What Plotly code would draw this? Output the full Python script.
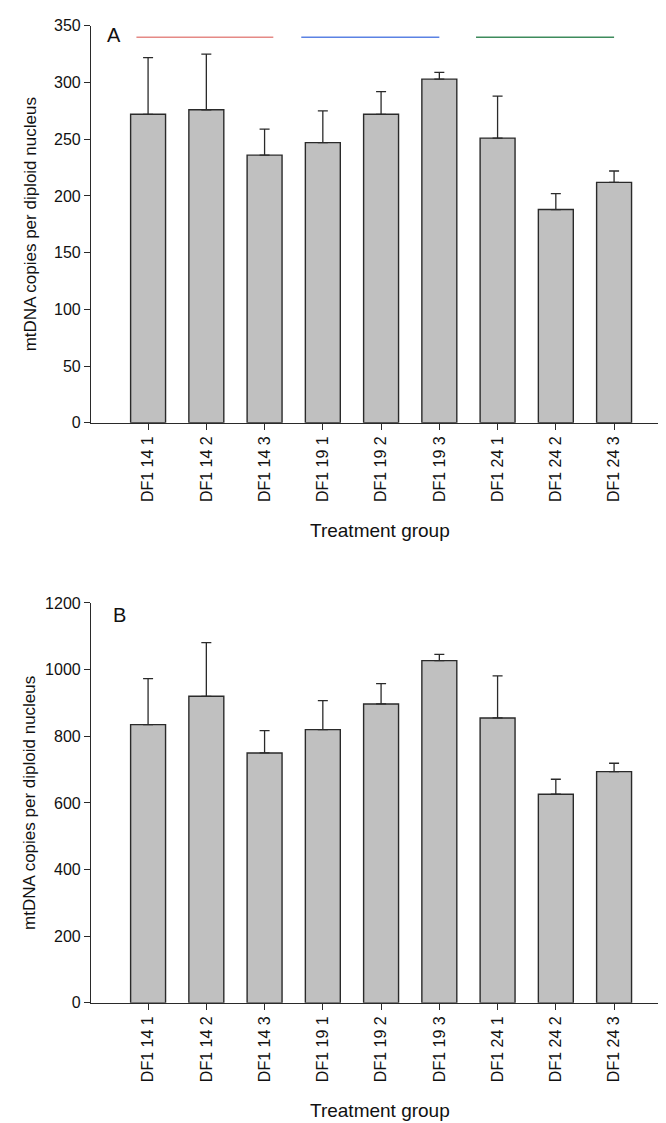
import plotly.graph_objects as go

categories = ["DF1 14 1", "DF1 14 2", "DF1 14 3", "DF1 19 1", "DF1 19 2",
              "DF1 19 3", "DF1 24 1", "DF1 24 2", "DF1 24 3"]

# Panel A values and upper error (top of whisker)
a_values = [272, 276, 236, 247, 272, 303, 251, 188, 212]
a_err_top = [322, 325, 259, 275, 292, 309, 288, 202, 222]

# Panel B values and upper error (top of whisker)
b_values = [835, 920, 750, 820, 897, 1027, 855, 626, 694]
b_err_top = [973, 1081, 817, 907, 958, 1046, 981, 671, 719]

a_ticks = [0, 50, 100, 150, 200, 250, 300, 350]
b_ticks = [0, 200, 400, 600, 800, 1000, 1200]

# group marker lines on panel A (start, end, colour)
group_lines = [(-0.2, 2.15, "#E58A86"), (2.63, 5.0, "#5B82E3"), (5.63, 8.0, "#3E8B5C")]
group_line_y = 340

FONT = "Liberation Sans, Arial, sans-serif"
AX = "#2a2a2a"
W, H = 666, 1123

x_idx = list(range(len(categories)))

def err(top, val):
    return [t - v for t, v in zip(top, val)]

fig = go.Figure()
for vals, tops, xa, ya in [(a_values, a_err_top, "x", "y"), (b_values, b_err_top, "x2", "y2")]:
    fig.add_trace(go.Bar(
        x=x_idx, y=vals, xaxis=xa, yaxis=ya, width=0.6,
        marker=dict(color="#C0C0C0", line=dict(color=AX, width=1.4)),
        error_y=dict(type="data", symmetric=False, array=err(tops, vals),
                     arrayminus=[0] * len(vals), color=AX, thickness=1.3, width=5),
        showlegend=False,
    ))

def px_dom_y(top_px, bot_px):
    return [1 - bot_px / H, 1 - top_px / H]

xdom = [83 / W, 662 / W]
xcommon = dict(range=[-0.98, 8.96], tickmode="array", tickvals=x_idx, ticktext=categories,
               tickangle=-90, ticks="outside", ticklen=6, tickcolor=AX, tickwidth=1,
               showline=True, linecolor=AX, linewidth=1.2, showgrid=False, zeroline=False,
               tickfont=dict(family=FONT, size=16, color="#111"), domain=xdom, fixedrange=True)
ycommon = dict(tickmode="array", ticks="outside", ticklen=6, tickcolor=AX, tickwidth=1,
               showline=True, linecolor=AX, linewidth=1.2, showgrid=False, zeroline=False,
               tickfont=dict(family=FONT, size=16, color="#111"), fixedrange=True)

fig.update_layout(
    width=W, height=H, margin=dict(l=0, r=0, t=0, b=0),
    paper_bgcolor="white", plot_bgcolor="white", bargap=0.4,
    xaxis=dict(xcommon, anchor="y"),
    yaxis=dict(ycommon, range=[0, 350], tickvals=a_ticks, domain=px_dom_y(10, 413), anchor="x"),
    xaxis2=dict(xcommon, anchor="y2"),
    yaxis2=dict(ycommon, range=[0, 1200], tickvals=b_ticks, domain=px_dom_y(596, 1002), anchor="x2"),
)

shapes = []
for x0, x1, c in group_lines:
    shapes.append(dict(type="line", xref="x", yref="y", x0=x0, x1=x1,
                       y0=group_line_y, y1=group_line_y, line=dict(color=c, width=1.5)))
fig.update_layout(shapes=shapes)

ann = []
def add_text(text, cx, cy, size, angle=0):
    ann.append(dict(text=text, xref="paper", yref="paper", x=cx / W, y=1 - cy / H,
                    xanchor="center", yanchor="middle", textangle=angle, showarrow=False,
                    font=dict(family=FONT, size=size, color="#111")))

# panel letters
add_text("A", 106, 19, 20)
add_text("B", 111, 608, 20)
# axis titles
for cy in [211.5, 799]:
    add_text("mtDNA copies per diploid nucleus", 22, cy, 17, -90)
for cy in [522, 1111]:
    add_text("Treatment group", 372, cy, 19)
fig.update_layout(annotations=ann)

fig.write_html("out.html")
